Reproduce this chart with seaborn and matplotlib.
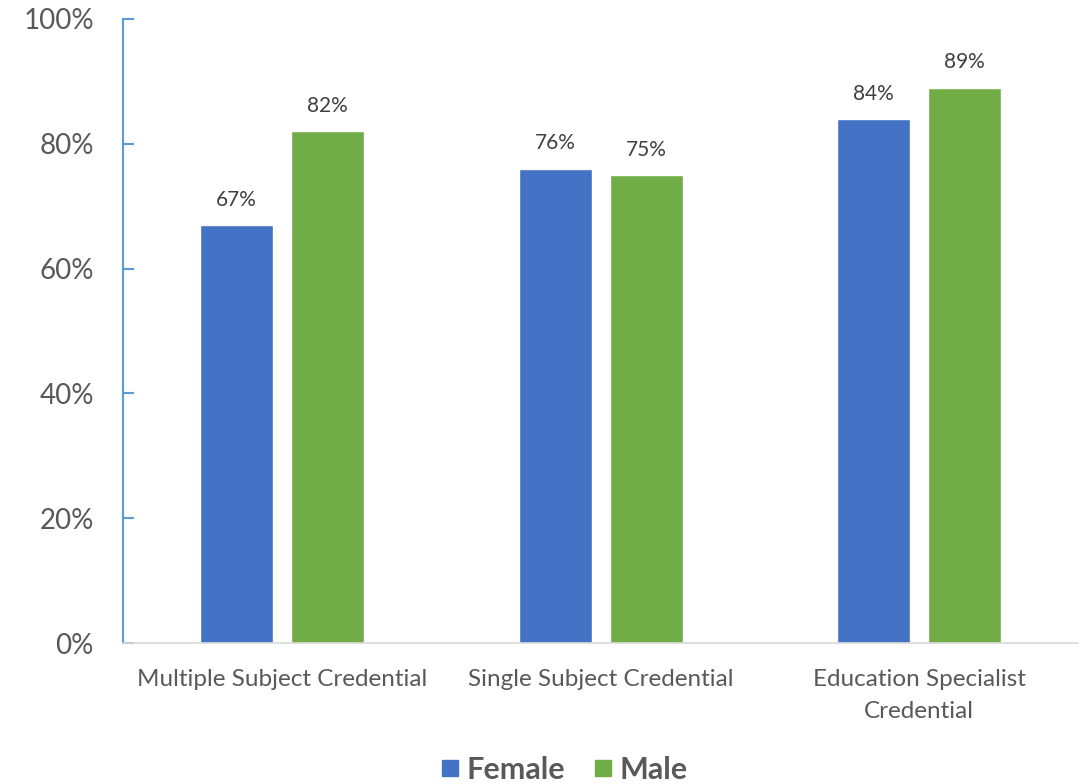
import pandas as pd
import matplotlib.pyplot as plt
import seaborn as sns
from matplotlib.ticker import PercentFormatter

credentials = ["Multiple Subject Credential", "Single Subject Credential", "Education Specialist\nCredential"]
genders = ["Female", "Male"]
female = [67, 76, 84]
male = [82, 75, 89]

df = pd.DataFrame({
    "credential": credentials * 2,
    "gender": ["Female"] * 3 + ["Male"] * 3,
    "pct": female + male,
})

sns.set_style("white")
plt.rcParams["font.family"] = ["Lato", "DejaVu Sans"]

fig = plt.figure(figsize=(10.87, 7.84), dpi=100)
ax = fig.add_axes([0.1132, 0.1798, 0.8788, 0.796])
palette = {"Female": "#4472C4", "Male": "#70AD47"}
sns.barplot(data=df, x="credential", y="pct", hue="gender", hue_order=genders,
            order=credentials, palette=palette, width=0.572, gap=0.2,
            saturation=1, ax=ax, legend=False)

for cont in ax.containers:
    ax.bar_label(cont, labels=[f"{v:.0f}%" for v in cont.datavalues],
                 padding=11, fontsize=15, color="#404040")

ax.set_ylim(0, 100)
ax.set_xlim(-0.5, 2.5)
ax.set_yticks(range(0, 101, 20))
ax.yaxis.set_major_formatter(PercentFormatter(decimals=0))
ax.set_xlabel("")
ax.set_ylabel("")
ax.tick_params(axis="y", labelsize=20, labelcolor="#595959", direction="in",
               length=8, color="#5B9BD5", width=1.5, left=True, pad=21)
ax.tick_params(axis="x", labelsize=17.5, labelcolor="#595959", length=0, pad=19)
for lbl in ax.get_xticklabels():
    lbl.set_linespacing(1.65)
for s in ["top", "right"]:
    ax.spines[s].set_visible(False)
ax.spines["left"].set_color("#5B9BD5")
ax.spines["left"].set_linewidth(1.5)
ax.spines["bottom"].set_color("#D9D9D9")
ax.spines["bottom"].set_linewidth(1.2)

handles = [plt.Line2D([], [], marker="s", linestyle="", markersize=12,
                      color=palette[g]) for g in genders]
leg = fig.legend(handles, genders, loc="center", bbox_to_anchor=(0.5175, 0.018),
                 ncol=2, frameon=False, handlelength=0.8, handletextpad=0.15,
                 columnspacing=0.84, prop={"size": 22, "weight": "bold"})
for t in leg.get_texts():
    t.set_color("#595959")

fig.savefig("out.png", dpi=100)
